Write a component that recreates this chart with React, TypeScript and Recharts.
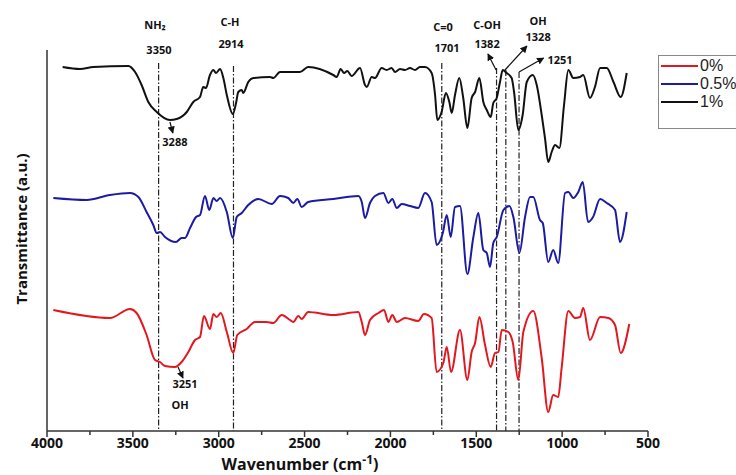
import React from 'react';
import { LineChart, Line, XAxis, YAxis, ReferenceLine, ReferenceDot } from 'recharts';

// FTIR spectra, transmittance in arbitrary units (curves are stacked with an offset)
const waves1 = [3909, 3808, 3730, 3526, 3487, 3449, 3410, 3361, 3284, 3245, 3186, 3148, 3109, 3090, 3074, 3051, 3031, 3016, 2992, 2973, 2953, 2918, 2899, 2886, 2866, 2857, 2828, 2798, 2701, 2682, 2643, 2566, 2527, 2479, 2333, 2313, 2290, 2270, 2251, 2226, 2177, 2148, 2138, 2109, 2090, 2051, 2022, 1993, 1973, 1944, 1915, 1886, 1857, 1828, 1799, 1760, 1740, 1727, 1702, 1677, 1657, 1643, 1624, 1599, 1576, 1552, 1527, 1507, 1482, 1459, 1439, 1416, 1401, 1381, 1362, 1346, 1323, 1294, 1280, 1255, 1230, 1206, 1171, 1148, 1119, 1100, 1081, 1061, 1041, 1016, 989, 964, 935, 896, 877, 838, 809, 779, 740, 701, 659, 624];
const trans1 = [364, 362, 364, 365, 359, 346, 329, 319, 311, 312, 319, 329, 334, 344, 343, 356, 361, 358, 362, 353, 336, 317, 328, 339, 341, 338, 349, 353, 354, 353, 359, 359, 359, 364, 356, 354, 362, 358, 360, 355, 363, 346, 344, 354, 353, 363, 361, 363, 359, 362, 361, 363, 361, 364, 364, 358, 336, 311, 319, 338, 329, 318, 336, 353, 333, 303, 333, 339, 353, 329, 321, 314, 328, 333, 349, 361, 358, 353, 339, 301, 316, 349, 356, 346, 316, 293, 269, 279, 286, 283, 326, 361, 353, 354, 356, 333, 344, 363, 363, 349, 334, 358];

const waves05 = [3963, 3769, 3633, 3517, 3468, 3420, 3381, 3361, 3342, 3313, 3249, 3216, 3196, 3167, 3132, 3109, 3080, 3055, 3031, 3012, 2992, 2953, 2918, 2895, 2866, 2828, 2769, 2691, 2643, 2595, 2566, 2542, 2517, 2479, 2333, 2187, 2167, 2148, 2119, 2090, 2041, 2012, 1989, 1963, 1934, 1886, 1838, 1799, 1760, 1731, 1695, 1672, 1649, 1624, 1595, 1552, 1517, 1488, 1459, 1439, 1420, 1401, 1381, 1342, 1307, 1284, 1249, 1216, 1187, 1168, 1129, 1113, 1081, 1052, 1023, 983, 964, 935, 906, 880, 849, 820, 779, 740, 692, 663, 624];
const trans05 = [233, 231, 236, 238, 234, 219, 206, 198, 199, 194, 189, 193, 193, 203, 214, 216, 235, 221, 233, 230, 233, 219, 193, 214, 218, 226, 232, 227, 235, 233, 228, 232, 224, 229, 232, 235, 229, 213, 228, 235, 238, 228, 232, 223, 227, 225, 223, 238, 229, 186, 198, 216, 194, 224, 225, 157, 194, 218, 181, 178, 164, 188, 194, 221, 225, 214, 178, 214, 234, 234, 211, 208, 169, 181, 168, 238, 239, 233, 239, 249, 209, 214, 232, 228, 221, 189, 219];

const waves0 = [3963, 3633, 3517, 3478, 3420, 3371, 3342, 3313, 3255, 3216, 3177, 3138, 3109, 3086, 3051, 3031, 3012, 2988, 2953, 2915, 2892, 2837, 2789, 2721, 2682, 2633, 2585, 2566, 2536, 2517, 2479, 2333, 2187, 2167, 2148, 2119, 2070, 2037, 2012, 1989, 1963, 1915, 1838, 1805, 1760, 1731, 1692, 1672, 1647, 1595, 1552, 1527, 1507, 1482, 1449, 1416, 1391, 1371, 1352, 1313, 1288, 1255, 1226, 1168, 1119, 1081, 1052, 1023, 1003, 964, 925, 896, 877, 838, 779, 731, 692, 659, 609];
const trans0 = [121, 113, 122, 118, 96, 71, 69, 65, 64, 69, 79, 91, 94, 115, 102, 117, 114, 118, 99, 78, 96, 102, 109, 109, 108, 116, 111, 109, 115, 112, 119, 116, 119, 109, 96, 111, 118, 121, 109, 116, 109, 113, 110, 117, 113, 59, 68, 84, 59, 101, 51, 79, 88, 114, 86, 64, 78, 79, 101, 99, 89, 51, 99, 120, 73, 19, 36, 34, 63, 120, 113, 114, 123, 91, 114, 113, 106, 78, 107];

const seriesNames = ['0%', '0.5%', '1%'];
const seriesColors = ['#e3181f', '#1b1ba3', '#111111'];
const xTicks = [4000, 3750, 3500, 3250, 3000, 2750, 2500, 2250, 2000, 1750, 1500, 1250, 1000, 750, 500];
const peakLines = [3350, 2914, 1701, 1382, 1328, 1251];
const peakTops = [368, 365, 368, 363, 361, 359];

const toPoints = (w: number[], t: number[]) => w.map((x, i) => ({ w: x, t: t[i] }));
const data0 = toPoints(waves0, trans0);
const data05 = toPoints(waves05, trans05);
const data1 = toPoints(waves1, trans1);

const noteFont = { fontFamily: '"Open Sans", sans-serif', fontWeight: 700, fontSize: 11, fill: '#111' };

const XTick = (props: any) => {
  const { x, y, payload } = props;
  const major = payload.value % 500 === 0;
  return (
    <g>
      <line x1={x} x2={x} y1={y} y2={y + (major ? 6 : 4)} stroke="#333" strokeWidth={1.5} />
      {major && (
        <text x={x} y={y + 17} textAnchor="middle" style={{ fontFamily: '"Open Sans", sans-serif', fontWeight: 700, fontSize: 14 }} fill="#111">
          {payload.value}
        </text>
      )}
    </g>
  );
};

const Note = ({ w, v, text }: { w: number; v: number; text: string }) => (
  <ReferenceDot
    key={text + w + v}
    x={w}
    y={v}
    r={0}
    fill="none"
    stroke="none"
    ifOverflow="visible"
    label={{ value: text, position: 'center', style: noteFont }}
  />
);

const Arrow = ({ from, to }: { from: [number, number]; to: [number, number] }) => (
  <ReferenceLine
    key={from.join('-')}
    segment={[{ x: from[0], y: from[1] }, { x: to[0], y: to[1] }]}
    stroke="#111"
    strokeWidth={1.2}
    markerEnd="url(#arrowHead)"
    ifOverflow="visible"
  />
);

const App: React.FC = () => {
  return (
    <div style={{ position: 'absolute', left: 0, top: 0, width: 736, height: 475, background: '#fff' }}>
      <LineChart width={736} height={475} margin={{ top: 0, right: 88, bottom: 0, left: 0 }}>
        <defs>
          <marker id="arrowHead" viewBox="0 0 10 10" refX="9" refY="5" markerWidth="6" markerHeight="6" orient="auto">
            <path d="M0,0 L10,5 L0,10 z" fill="#111" />
          </marker>
        </defs>
        <XAxis
          dataKey="w"
          type="number"
          domain={[500, 4000]}
          reversed
          ticks={xTicks}
          interval={0}
          tick={<XTick />}
          tickLine={false}
          tickSize={0}
          tickMargin={0}
          height={44}
          axisLine={{ stroke: '#333', strokeWidth: 1.5 }}
          allowDuplicatedCategory={false}
          label={{
            content: () => (
              <text x={300} y={470} textAnchor="middle" style={{ fontFamily: '"Open Sans", sans-serif', fontWeight: 700, fontSize: 16 }} fill="#111">
                Wavenumber (cm<tspan dy={-6} fontSize={12}>-1</tspan><tspan dy={6}>)</tspan>
              </text>
            ),
          }}
        />
        <YAxis
          type="number"
          domain={[0, 431]}
          width={47}
          axisLine={false}
          tick={false}
          tickLine={false}
          label={{
            content: () => (
              <text x={27} y={229} transform="rotate(-90 27 229)" textAnchor="middle" style={{ fontFamily: '"Open Sans", sans-serif', fontWeight: 700, fontSize: 15 }} fill="#111">
                Transmittance (a.u.)
              </text>
            ),
          }}
        />
        {/* left axis line only spans the lower part of the frame */}
        <ReferenceLine segment={[{ x: 4000, y: 0 }, { x: 4000, y: 381 }]} stroke="#333" strokeWidth={1.5} />

        {peakLines.map((w, i) => (
          <ReferenceLine
            key={w}
            segment={[{ x: w, y: peakTops[i] }, { x: w, y: 0 }]}
            stroke="#222"
            strokeWidth={1.2}
            strokeDasharray="6 2 1.5 2"
          />
        ))}

        <Line data={data0} dataKey="t" name={seriesNames[0]} type="monotone" stroke={seriesColors[0]} strokeWidth={2} dot={false} isAnimationActive={false} />
        <Line data={data05} dataKey="t" name={seriesNames[1]} type="monotone" stroke={seriesColors[1]} strokeWidth={2} dot={false} isAnimationActive={false} />
        <Line data={data1} dataKey="t" name={seriesNames[2]} type="monotone" stroke={seriesColors[2]} strokeWidth={2} dot={false} isAnimationActive={false} />

        {Arrow({ from: [3284, 309], to: [3267, 298] })}
        {Arrow({ from: [3237, 64], to: [3208, 53] })}
        {Arrow({ from: [1385, 361], to: [1432, 377] })}
        {Arrow({ from: [1333, 361], to: [1205, 385] })}
        {Arrow({ from: [1251, 359], to: [1108, 373] })}

        {Note({ w: 3371, v: 406, text: 'NH₂' })}
        {Note({ w: 3348, v: 381, text: '3350' })}
        {Note({ w: 2934, v: 409, text: 'C-H' })}
        {Note({ w: 2928, v: 387, text: '2914' })}
        {Note({ w: 1694, v: 404, text: 'C=0' })}
        {Note({ w: 1670, v: 383, text: '1701' })}
        {Note({ w: 1437, v: 406, text: 'C-OH' })}
        {Note({ w: 1437, v: 387, text: '1382' })}
        {Note({ w: 1140, v: 410, text: 'OH' })}
        {Note({ w: 1140, v: 394, text: '1328' })}
        {Note({ w: 1012, v: 371, text: '1251' })}
        {Note({ w: 3255, v: 289, text: '3288' })}
        {Note({ w: 3196, v: 47, text: '3251' })}
        {Note({ w: 3225, v: 26, text: 'OH' })}
      </LineChart>

      {/* legend box, cut off by the right edge like the original */}
      <div
        style={{
          position: 'absolute',
          left: 658,
          top: 55,
          width: 90,
          height: 72,
          border: '1px solid #888',
          background: '#fff',
          fontFamily: '"Liberation Sans", Arial, sans-serif',
          fontSize: 16,
          color: '#222',
        }}
      >
        {seriesNames.map((n, i) => (
          <div key={n} style={{ display: 'flex', alignItems: 'center', height: 18, marginTop: i === 0 ? 1 : 0 }}>
            <span style={{ display: 'inline-block', width: 37, height: 2, background: seriesColors[i], marginLeft: 2, marginRight: 2 }} />
            <span>{n}</span>
          </div>
        ))}
      </div>
    </div>
  );
};

export default App;
